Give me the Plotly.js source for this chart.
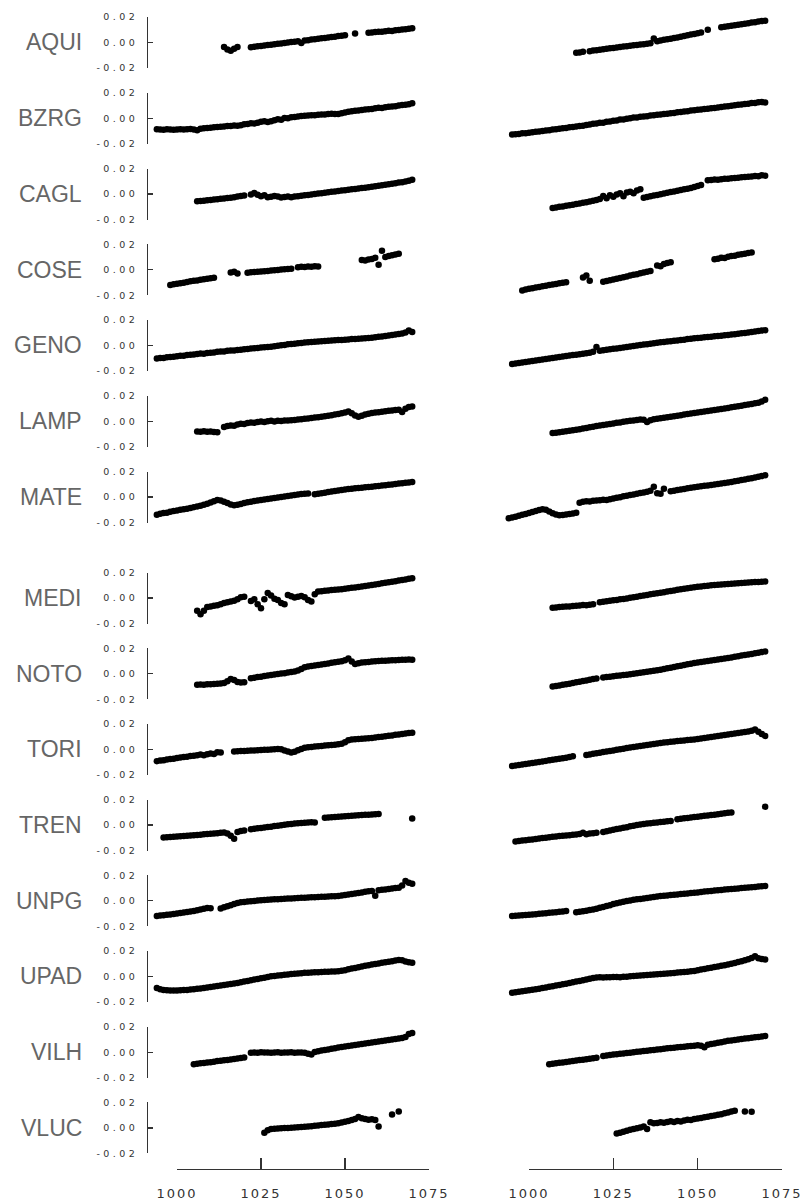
<!DOCTYPE html>
<html><head><meta charset="utf-8">
<script src="https://cdn.plot.ly/plotly-3.0.1.min.js"></script>
<style>
html,body{margin:0;padding:0;background:#fff;}
#chart g[class^="y"][class$="tick"] text{letter-spacing:3.4px;}
#chart g[class^="x"][class$="tick"] text{letter-spacing:2px;}
</style></head>
<body><div id="chart" style="width:804px;height:1202px;"></div>
<script>
// Station names (rows, top to bottom)
const stations = ['AQUI','BZRG','CAGL','COSE','GENO','LAMP','MATE','MEDI','NOTO','TORI','TREN','UNPG','UPAD','VILH','VLUC'];
// First epoch of each series (values then follow at one-epoch steps)
const startLeft  = [1014,994,1006,998,994,1006,994,1006,1006,994,996,994,994,1005,1026];
const startRight = [1014,995,1007,998,995,1007,994,1007,1007,995,996,995,995,1006,1026];
// Axis ticks
const xTicks = [1000,1025,1050,1075];
const yTicks = [-0.02,0,0.02];
const yTickText = ['-0.02','0.00','0.02'];

// Values in mm (null = no observation)
const AQUI_L = [-3.5,-5.5,-6.5,-5,-3.5,null,null,null,-3.7,-3.3,
 -3.0,-2.7,-2.3,-2.0,-1.7,-1.3,-1.0,-0.7,-0.3,0.0,
 0.4,0.6,0.9,-0.3,1.5,1.8,2.3,2.6,3.0,3.3,
 3.6,4.0,4.3,4.6,5.0,5.3,5.7,null,null,7.0,
 null,null,null,7.6,7.9,8.2,8.5,8.4,8.9,9.2,
 9.1,9.6,9.9,10.2,10.4,10.8,11.2];
const AQUI_R = [-8.0,-7.8,-7.2,null,-6.8,-6.3,-6.0,-5.6,-5.3,-5.0,
 -4.6,-4.3,-4.0,-3.6,-3.2,-3.0,-2.6,-2.2,-2.0,-1.6,
 -1.3,-1.0,-0.6,3.2,1.0,1.5,2.2,2.6,3.0,3.5,
 4.0,4.6,5.1,5.6,6.2,6.6,7.2,7.8,null,10.0,
 null,null,null,12.0,12.4,12.7,13.1,13.6,13.9,14.3,
 14.8,15.1,15.6,15.9,16.4,16.8,17.0];
const BZRG_L = [-8.6,-8.8,-9.0,-8.7,-8.9,-9.1,-8.8,-8.6,-8.9,-8.7,
 -8.5,-8.8,-9.4,-8.2,-7.8,-7.6,-7.4,-7.0,-6.9,-6.6,
 -6.5,-6.1,-6.0,-5.6,-5.9,-5.4,-4.8,-4.5,-3.9,-4.2,
 -3.5,-2.8,-2.4,-3.0,-2.3,-1.5,-0.8,-1.2,0.2,0.0,
 0.8,1.0,1.3,1.7,1.9,2.2,2.3,2.4,2.8,2.9,
 3.0,3.4,3.5,3.3,3.4,4.0,4.6,5.0,5.5,5.8,
 6.0,6.4,6.8,7.1,7.3,7.8,8.2,8.1,8.7,9.0,
 9.3,9.5,10.0,10.3,10.6,11.0,11.7];
const BZRG_R = [-12.8,-12.5,-12.3,-11.8,-11.7,-11.3,-11.0,-10.6,-10.4,-10.0,
 -9.6,-9.4,-8.9,-8.6,-8.2,-7.8,-7.6,-7.1,-6.8,-6.5,
 -6.0,-5.9,-5.2,-5.0,-4.4,-4.2,-3.5,-3.6,-2.8,-2.6,
 -1.9,-1.8,-1.0,-0.9,-0.3,0.0,0.5,0.6,1.1,1.4,
 1.6,2.1,2.3,2.7,3.0,3.3,3.6,4.0,4.2,4.7,
 4.9,5.3,5.5,6.0,6.2,6.6,6.8,7.3,7.4,7.9,
 8.1,8.5,8.8,9.2,9.4,9.9,10.1,10.5,10.8,11.2,
 11.4,11.9,12.0,12.5,12.7,12.3];
const CAGL_L = [-5.7,-5.5,-5.2,-4.9,-4.8,-4.3,-4.1,-3.8,-3.6,-3.2,
 -3.0,-2.6,-2.0,-1.6,-1.2,null,-0.4,0.8,-0.6,-1.8,
 -1.0,-2.6,-2.2,-1.5,-2.0,-2.8,-2.4,-2.0,-2.6,-2.0,
 -1.7,-1.4,-1.0,-0.7,-0.4,0.0,0.3,0.6,1.0,1.3,
 1.7,2.0,2.4,2.7,3.0,3.3,3.7,4.0,4.3,4.7,
 5.0,5.3,5.7,6.0,6.4,6.8,7.2,7.6,8.0,8.5,
 9.0,9.3,9.9,10.4,11.2];
const CAGL_R = [-11.0,-10.6,-10.0,-9.8,-9.2,-8.8,-8.5,-7.8,-7.5,-6.9,
 -6.4,-5.9,-5.3,-4.8,-4.0,-1.5,-3.4,-1.0,-2.2,-0.3,
 0.5,-1.8,1.2,1.8,0.6,2.8,3.8,-3.0,-2.4,-1.8,
 -1.2,-0.8,-0.2,0.4,1.0,1.5,2.0,2.6,3.1,3.7,
 4.2,4.8,5.5,6.2,7.0,null,10.8,11.0,11.3,11.2,
 11.6,11.9,12.0,12.4,12.6,12.8,13.1,13.3,13.6,13.8,
 14.2,14.0,14.8,14.4];
const COSE_L = [-12.0,-11.4,-11.0,-10.5,-10.1,-9.6,-9.0,-8.7,-8.4,-7.9,
 -7.5,-7.0,-6.6,-6.3,null,null,null,null,-2.2,-1.6,
 -3.0,null,null,-2.4,-2.0,-1.8,-1.5,-1.3,-1.1,-0.9,
 -0.6,-0.4,-0.2,0.1,0.3,0.5,0.8,null,2.0,2.4,
 2.2,2.6,2.4,2.8,2.5,null,null,null,null,null,
 null,null,null,null,null,null,null,7.6,7.2,8.0,
 8.4,9.5,4.0,14.9,10.0,10.8,11.3,12.0,12.5];
const COSE_R = [-16.2,-15.5,-15.0,-14.6,-14.0,-13.5,-13.0,-12.6,-12.0,-11.6,
 -11.1,-10.6,-10.2,-9.8,null,null,null,null,-6.0,-4.6,
 -8.6,null,null,null,-9.4,-8.9,-8.2,-7.7,-7.0,-6.5,
 -5.8,-5.3,-4.6,-4.0,-3.5,-2.8,-2.2,-1.6,-0.9,null,
 3.4,2.8,4.6,5.2,5.8,null,null,null,null,null,
 null,null,null,null,null,null,null,8.2,8.6,9.4,
 9.2,10.2,10.8,11.0,11.8,12.2,12.6,13.2,13.6];
const GENO_L = [-10.2,-9.8,-9.9,-9.3,-9.0,-8.8,-8.4,-8.0,-8.1,-7.5,
 -7.2,-7.1,-6.7,-6.3,-6.4,-5.8,-5.6,-5.5,-5.0,-4.8,
 -4.7,-4.2,-4.0,-3.9,-3.5,-3.3,-2.9,-2.8,-2.4,-2.1,
 -2.0,-1.6,-1.4,-1.2,-0.9,-0.6,-0.2,0.2,0.4,0.9,
 1.2,1.4,1.8,2.0,2.4,2.5,2.8,3.0,3.1,3.3,
 3.6,3.7,3.9,4.1,4.3,4.4,4.6,4.8,5.0,5.1,
 5.3,5.5,5.6,5.9,6.1,6.5,6.8,7.1,7.5,7.9,
 8.2,8.6,9.0,9.4,10.2,11.8,10.6];
const GENO_R = [-14.6,-14.2,-13.8,-13.3,-12.9,-12.5,-12.1,-11.7,-11.4,-11.0,
 -10.6,-10.2,-9.8,-9.4,-9.0,-8.6,-8.2,-7.9,-7.5,-7.2,
 -6.8,-6.4,-6.0,-5.6,-5.0,-1.2,-4.2,-3.8,-3.4,-3.0,
 -2.6,-2.3,-1.9,-1.5,-1.1,-0.7,-0.4,0.0,0.3,0.7,
 1.0,1.4,1.7,2.1,2.5,2.8,3.1,3.4,3.7,4.0,
 4.3,4.6,5.0,5.3,5.6,5.9,6.1,6.4,6.6,6.9,
 7.2,7.4,7.7,8.0,8.3,8.6,8.9,9.2,9.6,9.9,
 10.2,10.6,10.9,11.3,11.7,12.0];
const LAMP_L = [-8.0,-8.2,-7.9,-8.3,-8.1,-8.4,-8.6,null,-4.6,-3.8,
 -3.3,-3.5,-2.6,-2.0,-2.2,-1.4,-1.0,-1.2,-0.5,-0.2,
 -0.6,0.0,0.3,-0.1,0.4,0.2,0.6,0.5,0.8,1.0,
 1.4,1.6,1.9,2.2,2.6,2.9,3.2,3.6,3.9,4.3,
 4.8,5.2,5.6,6.2,6.8,7.6,6.2,4.6,3.6,4.4,
 5.2,5.8,6.4,6.8,7.1,7.5,7.8,8.2,8.5,8.8,
 9.0,7.2,9.8,11.2,11.6];
const LAMP_R = [-9.3,-9.0,-8.6,-8.2,-7.8,-7.5,-7.0,-6.6,-6.2,-5.7,
 -5.2,-4.8,-4.3,-3.8,-3.4,-2.9,-2.5,-2.1,-1.7,-1.2,
 -0.9,-0.4,0.0,0.3,0.6,1.0,1.3,1.1,-0.5,0.8,
 1.6,2.0,2.4,2.8,3.2,3.6,4.0,4.4,4.8,5.2,
 5.6,6.0,6.4,6.8,7.2,7.6,8.0,8.4,8.8,9.2,
 9.6,10.0,10.4,10.9,11.3,11.8,12.2,12.7,13.1,13.6,
 14.1,14.6,15.5,16.8];
const MATE_L = [-14.0,-13.2,-12.6,-12.3,-11.6,-11.0,-10.6,-10.0,-9.6,-9.2,
 -8.6,-8.0,-7.4,-6.8,-6.0,-5.2,-4.4,-3.4,-2.4,-2.8,
 -3.8,-4.8,-5.8,-6.4,-6.0,-5.4,-4.8,-4.2,-3.8,-3.2,
 -2.8,-2.4,-2.0,-1.6,-1.2,-0.8,-0.4,0.0,0.4,0.8,
 1.1,1.5,1.9,2.3,2.6,2.8,null,2.2,2.6,3.0,
 3.4,3.9,4.3,4.7,5.1,5.5,5.9,6.2,6.5,6.8,
 7.1,7.3,7.6,7.8,8.1,8.4,8.7,9.0,9.3,9.6,
 9.9,10.2,10.5,10.8,11.1,11.4,11.7];
const MATE_R = [-16.7,-16.0,-15.4,-14.8,-14.0,-13.4,-12.6,-11.8,-11.0,-10.2,
 -9.6,-10.0,-11.4,-12.8,-13.8,-14.4,-14.2,-13.8,-13.4,-13.0,
 -12.4,-4.5,-3.8,-3.4,-3.6,-3.0,-2.7,-2.5,-2.2,-2.3,
 -1.8,-1.2,-0.6,-0.2,0.5,1.0,1.6,2.0,2.6,3.2,
 3.6,4.2,5.0,8.0,3.0,2.6,6.4,null,4.6,5.0,
 5.4,5.8,6.3,6.8,7.2,7.6,8.0,8.4,8.8,9.1,
 9.4,9.8,10.2,10.6,11.0,11.4,11.8,12.3,12.8,13.3,
 13.8,14.3,14.8,15.3,15.8,16.4,17.0];
const MEDI_L = [-10.0,-12.8,-10.0,-7.0,-6.6,-6.0,-5.6,-5.0,-4.0,-3.4,
 -2.8,-2.2,-1.0,0.6,1.0,null,-2.4,-1.0,-5.0,-8.0,
 -1.0,3.9,2.0,-0.5,-1.5,-4.0,-5.0,2.3,1.4,0.4,
 1.0,1.5,0.5,-1.5,-2.8,3.0,5.0,5.2,5.6,5.9,
 6.2,6.4,6.6,6.8,7.2,7.6,8.0,8.3,8.7,9.0,
 9.4,9.8,10.2,10.6,11.0,11.5,11.9,12.3,12.8,13.2,
 13.7,14.1,14.6,15.0,15.4];
const MEDI_R = [-7.6,-7.4,-7.0,-6.9,-6.6,-6.6,-6.2,-6.0,-5.9,-5.5,
 -5.6,-5.2,-5.0,null,-3.4,-3.0,-2.6,-2.2,-1.8,-1.5,
 -1.0,-0.8,-0.3,0.2,0.5,1.0,1.5,1.9,2.4,2.9,
 3.3,3.8,4.2,4.6,5.1,5.5,5.9,6.4,6.8,7.2,
 7.6,8.0,8.4,8.8,9.1,9.4,9.7,10.0,10.2,10.4,
 10.6,10.8,11.0,11.2,11.4,11.6,11.8,12.0,12.2,12.3,
 12.5,12.6,12.8,12.9];
const NOTO_L = [-8.6,-8.5,-8.6,-8.3,-8.2,-8.0,-7.9,-7.6,-7.3,-6.0,
 -4.2,-5.0,-6.6,-7.0,-6.8,null,-3.6,-3.2,-2.6,-2.4,
 -1.8,-1.5,-1.0,-0.6,-0.2,0.2,0.4,0.9,1.3,1.8,
 2.6,3.6,5.0,5.6,6.0,6.4,6.8,7.2,7.6,8.0,
 8.5,9.0,9.4,9.8,10.6,12.0,9.6,7.6,8.2,8.7,
 9.0,9.2,9.5,9.7,9.9,10.1,10.2,10.4,10.5,10.6,
 10.8,10.9,11.0,11.2,11.0];
const NOTO_R = [-10.0,-9.6,-9.2,-8.7,-8.2,-7.8,-7.2,-6.8,-6.4,-5.8,
 -5.4,-4.8,-4.2,-3.8,null,-3.0,-2.6,-2.3,-2.0,-1.7,
 -1.4,-1.1,-0.8,-0.4,0.0,0.4,0.8,1.2,1.6,2.0,
 2.4,2.7,3.1,3.6,4.2,4.7,5.2,5.8,6.3,6.8,
 7.4,7.9,8.4,8.8,9.2,9.6,10.0,10.4,10.8,11.2,
 11.6,12.0,12.3,12.8,13.3,13.7,14.2,14.6,15.1,15.5,
 16.0,16.5,17.0,17.5];
const TORI_L = [-9.2,-8.8,-8.6,-8.0,-7.6,-7.4,-6.8,-6.4,-6.0,-5.8,
 -5.2,-4.9,-4.6,-4.0,-4.6,-3.8,-3.2,-3.6,-2.2,-2.4,
 null,null,null,-1.6,-1.4,-1.2,-1.3,-1.0,-0.9,-0.8,
 -0.6,-0.5,-0.3,-0.2,0.0,0.2,0.3,0.1,-0.8,-1.6,
 -2.4,-1.8,-0.6,0.4,1.2,1.6,1.9,2.2,2.4,2.7,
 3.0,3.2,3.5,3.7,4.0,4.4,5.6,7.2,7.8,8.0,
 8.2,8.4,8.6,8.8,9.0,9.4,9.7,10.0,10.4,10.7,
 11.0,11.4,11.7,12.0,12.4,12.8,13.0];
const TORI_R = [-13.0,-12.6,-12.2,-11.8,-11.4,-11.0,-10.6,-10.2,-9.8,-9.4,
 -9.0,-8.6,-8.2,-7.8,-7.4,-7.0,-6.6,-6.0,-5.4,null,
 null,null,-4.4,-4.0,-3.5,-3.0,-2.6,-2.1,-1.6,-1.2,
 -0.8,-0.3,0.2,0.6,1.1,1.5,1.9,2.3,2.7,3.1,
 3.5,3.9,4.3,4.7,5.1,5.4,5.7,6.0,6.2,6.5,
 6.8,7.0,7.3,7.5,7.8,8.2,8.6,9.0,9.4,9.8,
 10.2,10.6,11.0,11.3,11.7,12.0,12.4,12.8,13.2,13.6,
 14.0,14.6,15.6,13.8,12.0,10.6];
const TREN_L = [-9.7,-9.5,-9.4,-9.1,-9.0,-8.8,-8.6,-8.4,-8.2,-8.0,
 -7.8,-7.5,-7.2,-7.0,-6.8,-6.6,-6.3,-6.0,-5.8,-6.6,
 -8.4,-10.8,-5.4,-4.6,-4.2,null,-3.2,-2.9,-2.5,-2.2,
 -1.8,-1.5,-1.2,-0.8,-0.5,-0.1,0.3,0.6,0.9,1.2,
 1.4,1.6,1.8,2.0,2.2,2.0,null,null,5.8,6.0,
 6.2,6.4,6.6,6.8,7.0,7.2,7.4,7.5,7.7,7.9,
 8.1,8.2,8.4,8.6,8.7,null,null,null,null,null,
 null,null,null,null,5.2];
const TREN_R = [-12.8,-12.5,-12.1,-11.8,-11.5,-11.2,-10.9,-10.6,-10.2,-9.9,
 -9.6,-9.2,-8.9,-8.6,-8.3,-8.1,-7.9,-7.6,-7.4,-7.0,
 -6.0,-7.2,-6.6,-6.3,-6.0,null,-5.4,-4.8,-4.2,-3.6,
 -3.0,-2.6,-2.0,-1.6,-1.0,-0.5,0.0,0.4,0.8,1.2,
 1.5,1.8,2.1,2.4,2.7,3.0,3.3,null,4.6,4.9,
 5.3,5.6,6.0,6.3,6.6,7.0,7.3,7.6,7.9,8.2,
 8.5,8.9,9.2,9.6,9.9,null,null,null,null,null,
 null,null,null,null,14.4];
const UNPG_L = [-11.9,-11.6,-11.4,-11.0,-10.8,-10.4,-10.0,-9.6,-9.2,-8.8,
 -8.4,-8.0,-7.4,-6.8,-6.2,-5.6,-5.8,null,null,-6.0,
 -5.0,-4.2,-3.4,-2.6,-1.8,-1.2,-0.9,-0.6,-0.4,-0.1,
 0.2,0.4,0.6,0.8,1.0,1.2,1.3,1.5,1.6,1.8,
 1.9,2.0,2.2,2.3,2.4,2.6,2.7,2.8,3.0,3.1,
 3.2,3.4,3.5,3.6,3.8,4.2,4.6,5.0,5.4,5.8,
 6.2,6.6,7.0,7.4,7.7,4.0,8.2,8.6,8.9,9.3,
 9.6,10.0,10.3,12.0,15.5,14.2,13.4];
const UNPG_R = [-11.9,-11.7,-11.6,-11.4,-11.2,-11.0,-10.7,-10.5,-10.2,-10.0,
 -9.7,-9.4,-9.2,-8.9,-8.6,-8.3,-8.0,null,null,-9.0,
 -8.6,-8.2,-7.8,-7.3,-6.8,-6.2,-5.4,-4.8,-4.0,-3.4,
 -2.6,-2.0,-1.4,-0.8,-0.2,0.3,0.8,1.2,1.5,1.9,
 2.2,2.6,2.9,3.3,3.7,4.0,4.2,4.5,4.8,5.0,
 5.3,5.6,5.8,6.1,6.4,6.6,6.9,7.2,7.4,7.7,
 8.0,8.2,8.5,8.8,9.0,9.2,9.5,9.7,10.0,10.2,
 10.4,10.7,10.9,11.2,11.4,11.6];
const UPAD_L = [-9.0,-10.0,-10.6,-10.8,-11.0,-11.0,-10.9,-10.8,-10.6,-10.5,
 -10.2,-10.0,-9.7,-9.4,-9.0,-8.6,-8.2,-7.8,-7.4,-7.0,
 -6.6,-6.2,-5.8,-5.4,-5.0,-4.6,-4.0,-3.5,-3.0,-2.4,
 -1.9,-1.4,-0.9,-0.4,0.1,0.4,0.7,1.0,1.3,1.6,
 1.9,2.1,2.4,2.6,2.9,3.0,3.1,3.3,3.4,3.6,
 3.7,3.8,3.9,4.0,4.2,4.6,5.0,5.6,6.2,6.7,
 7.2,7.8,8.4,8.9,9.4,9.8,10.2,10.7,11.1,11.6,
 12.0,12.5,13.0,12.8,11.8,11.2,10.7];
const UPAD_R = [-12.8,-12.4,-12.0,-11.6,-11.2,-10.8,-10.4,-10.0,-9.6,-9.1,
 -8.6,-8.1,-7.6,-7.1,-6.6,-6.1,-5.6,-5.0,-4.5,-4.0,
 -3.5,-3.0,-2.4,-1.8,-1.2,-0.8,-0.6,-0.8,-0.5,-0.6,
 -0.4,-0.3,-0.6,-0.2,-0.1,0.1,0.4,0.6,0.8,1.0,
 1.2,1.4,1.5,1.7,1.9,2.1,2.4,2.6,2.8,3.1,
 3.3,3.6,3.8,4.1,4.4,4.9,5.4,5.9,6.4,6.9,
 7.4,7.9,8.4,8.9,9.4,10.0,10.6,11.3,12.0,12.8,
 13.6,14.6,15.8,14.4,13.8,13.3];
const VILH_L = [-9.4,-9.0,-8.7,-8.4,-8.0,-7.8,-7.4,-7.0,-6.8,-6.4,
 -6.1,-5.8,-5.4,-5.0,-4.6,-4.2,null,-0.5,-0.2,-0.4,
 -0.1,-0.3,-0.2,-0.4,-0.3,-0.1,-0.4,-0.2,-0.3,-0.1,
 -0.4,-0.3,-0.2,-0.4,-1.2,-1.8,0.2,0.8,1.3,1.8,
 2.2,2.7,3.1,3.6,4.0,4.4,4.8,5.2,5.6,6.0,
 6.4,6.8,7.2,7.6,8.0,8.4,8.8,9.2,9.6,10.0,
 10.4,10.8,11.2,12.0,14.2,15.0];
const VILH_R = [-9.4,-9.0,-8.7,-8.3,-8.0,-7.6,-7.3,-6.9,-6.6,-6.2,
 -5.9,-5.5,-5.2,-4.8,-4.4,null,-2.9,-2.6,-2.2,-1.9,
 -1.6,-1.3,-1.0,-0.7,-0.4,-0.1,0.3,0.6,0.9,1.2,
 1.5,1.8,2.1,2.4,2.7,3.0,3.2,3.5,3.8,4.0,
 4.3,4.6,4.8,5.1,5.4,5.0,3.8,5.8,6.4,6.9,
 7.4,7.9,8.4,8.9,9.2,9.6,10.0,10.3,10.7,11.0,
 11.4,11.7,12.0,12.4,12.8];
const VLUC_L = [-3.8,-1.8,-0.8,-0.6,-0.4,-0.3,-0.1,0.0,0.2,0.3,
 0.5,0.7,0.9,1.1,1.3,1.6,1.9,2.2,2.4,2.7,
 3.0,3.3,3.6,4.2,4.8,5.4,6.2,7.0,8.6,7.6,
 7.0,6.4,6.8,6.2,1.0,null,null,null,10.6,null,
 12.8];
const VLUC_R = [-4.4,-3.8,-3.0,-2.2,-1.4,-0.8,-0.2,0.4,1.0,-0.8,
 4.4,3.6,3.8,4.4,4.0,4.6,5.2,4.6,5.4,5.0,
 5.8,6.4,6.2,7.0,7.4,7.8,8.4,8.8,9.4,9.8,
 10.4,10.8,11.4,12.0,12.8,13.4,null,null,12.8,null,
 12.6];

const leftSeries  = [AQUI_L,BZRG_L,CAGL_L,COSE_L,GENO_L,LAMP_L,MATE_L,MEDI_L,NOTO_L,TORI_L,TREN_L,UNPG_L,UPAD_L,VILH_L,VLUC_L];
const rightSeries = [AQUI_R,BZRG_R,CAGL_R,COSE_R,GENO_R,LAMP_R,MATE_R,MEDI_R,NOTO_R,TORI_R,TREN_R,UNPG_R,UPAD_R,VILH_R,VLUC_R];

// ---- layout geometry (pixels) ----
const W = 804, H = 1202;
const rowCenter = [42.5,118.25,194,269.75,345.5,421.25,497,598,673.7,749.4,825.1,900.8,976.5,1052.2,1127.9];
const halfH = 25.5;
const toM = a => a.map(v => v == null ? null : v / 1000);

// shown axis spans 1000..1075; data axes use the same scale with extra room on the left
const colL = {left: 177, right: 429}, colR = {left: 529, right: 782};
const dataMin = 993;
function dataDomain(col) {
  const ppu = (col.right - col.left) / (xTicks[3] - xTicks[0]);
  return [(col.left - (xTicks[0] - dataMin) * ppu) / W, col.right / W];
}

const traces = [];
const layout = {
  width: W, height: H, autosize: false,
  margin: {l:0, r:0, t:0, b:0, pad:0},
  paper_bgcolor: '#fff', plot_bgcolor: 'rgba(0,0,0,0)',
  showlegend: false, hovermode: false,
  annotations: []
};
const axisCommon = {
  showline: true, linecolor: '#333', linewidth: 1.2,
  ticks: 'inside', tickcolor: '#333', tickwidth: 1.2,
  showgrid: false, zeroline: false, fixedrange: true
};
const xFont = {family: 'DejaVu Sans', size: 13, color: '#333'};
layout.xaxis = Object.assign({}, axisCommon, {
  domain: [colL.left/W, colL.right/W], range: [xTicks[0], xTicks[3]], anchor: 'free', position: 33/H,
  ticklen: 11, tickvals: xTicks, ticktext: xTicks.map(String), tickfont: xFont, ticklabelstandoff: 12
});
layout.xaxis2 = Object.assign({}, axisCommon, {
  domain: [colR.left/W, colR.right/W], range: [xTicks[0], xTicks[3]], anchor: 'free', position: 33/H,
  ticklen: 11, tickvals: xTicks, ticktext: xTicks.map(String), tickfont: xFont, ticklabelstandoff: 12
});
layout.xaxis3 = {domain: dataDomain(colL), range: [dataMin, xTicks[3]], anchor: 'free', position: 33/H,
  visible: false, showgrid: false, zeroline: false, fixedrange: true};
layout.xaxis4 = {domain: dataDomain(colR), range: [dataMin, xTicks[3]], anchor: 'free', position: 33/H,
  visible: false, showgrid: false, zeroline: false, fixedrange: true};

// empty traces so the shown x axes belong to a subplot
traces.push({type:'scatter', mode:'markers', x:[], y:[], xaxis:'x', yaxis:'y', hoverinfo:'skip'});
traces.push({type:'scatter', mode:'markers', x:[], y:[], xaxis:'x2', yaxis:'y16', hoverinfo:'skip'});

stations.forEach((name, i) => {
  const c = rowCenter[i];
  const dom = [1 - (c + halfH)/H, 1 - (c - halfH)/H];
  const li = i + 1, ri = i + 16;
  const lName = li === 1 ? 'yaxis' : 'yaxis' + li;
  layout[lName] = Object.assign({}, axisCommon, {
    domain: dom, range: [-0.02, 0.02], anchor: 'free', position: 147/W,
    ticklen: 5, tickvals: yTicks, ticktext: yTickText,
    tickfont: {family: 'DejaVu Sans', size: 9.5, color: '#333'}, ticklabelstandoff: 7
  });
  layout['yaxis' + ri] = {domain: dom, range: [-0.02, 0.02], anchor: 'free', position: 529/W,
    visible: false, showgrid: false, zeroline: false, fixedrange: true};
  traces.push({type: 'scatter', mode: 'markers', x0: startLeft[i], dx: 1, y: toM(leftSeries[i]),
    xaxis: 'x3', yaxis: li === 1 ? 'y' : 'y' + li, cliponaxis: false, hoverinfo: 'skip',
    marker: {size: 6.5, color: '#000'}});
  traces.push({type: 'scatter', mode: 'markers', x0: startRight[i], dx: 1, y: toM(rightSeries[i]),
    xaxis: 'x4', yaxis: 'y' + ri, cliponaxis: false, hoverinfo: 'skip',
    marker: {size: 6.5, color: '#000'}});
  layout.annotations.push({xref: 'paper', yref: 'paper', x: 84/W, y: 1 - c/H,
    xanchor: 'right', yanchor: 'middle', showarrow: false, text: name,
    font: {family: 'Liberation Sans', size: 23, color: '#666'}});
});

Plotly.newPlot('chart', traces, layout, {staticPlot: true, displayModeBar: false});
</script>
</body></html>
